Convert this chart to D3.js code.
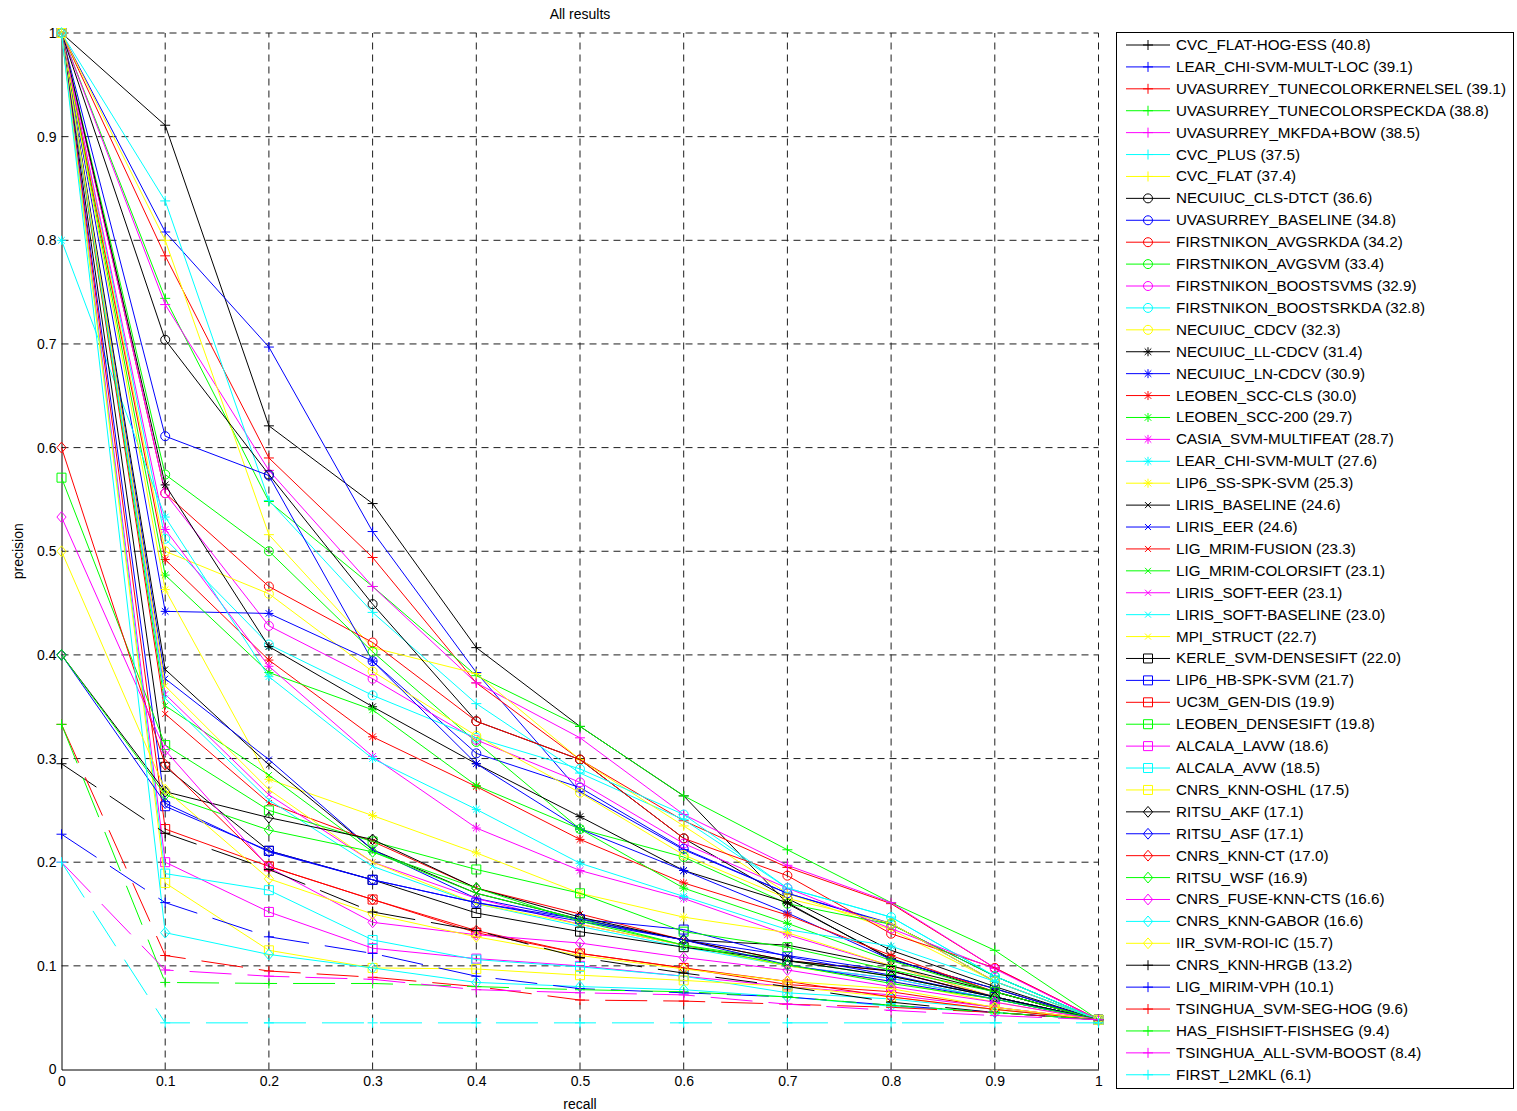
<!DOCTYPE html>
<html>
<head>
<meta charset="utf-8">
<script src="https://cdn.jsdelivr.net/npm/d3@7"></script>
<style>
  body { margin: 0; background: #fff; }
  svg { display: block; }
  text { font-family: "Liberation Sans", Arial, Helvetica, sans-serif; fill: #000; }
</style>
</head>
<body>
<svg id="chart" width="1517" height="1111"></svg>
<script>
// Recall levels at which precision is sampled
const recallLevels = [0, 0.1, 0.2, 0.3, 0.4, 0.5, 0.6, 0.7, 0.8, 0.9, 1];

// Method names with average precision, in plotting/legend order
const methods = [
  "CVC_FLAT-HOG-ESS (40.8)", "LEAR_CHI-SVM-MULT-LOC (39.1)", "UVASURREY_TUNECOLORKERNELSEL (39.1)",
  "UVASURREY_TUNECOLORSPECKDA (38.8)", "UVASURREY_MKFDA+BOW (38.5)", "CVC_PLUS (37.5)", "CVC_FLAT (37.4)",
  "NECUIUC_CLS-DTCT (36.6)", "UVASURREY_BASELINE (34.8)", "FIRSTNIKON_AVGSRKDA (34.2)",
  "FIRSTNIKON_AVGSVM (33.4)", "FIRSTNIKON_BOOSTSVMS (32.9)", "FIRSTNIKON_BOOSTSRKDA (32.8)", "NECUIUC_CDCV (32.3)",
  "NECUIUC_LL-CDCV (31.4)", "NECUIUC_LN-CDCV (30.9)", "LEOBEN_SCC-CLS (30.0)", "LEOBEN_SCC-200 (29.7)",
  "CASIA_SVM-MULTIFEAT (28.7)", "LEAR_CHI-SVM-MULT (27.6)", "LIP6_SS-SPK-SVM (25.3)",
  "LIRIS_BASELINE (24.6)", "LIRIS_EER (24.6)", "LIG_MRIM-FUSION (23.3)", "LIG_MRIM-COLORSIFT (23.1)",
  "LIRIS_SOFT-EER (23.1)", "LIRIS_SOFT-BASELINE (23.0)", "MPI_STRUCT (22.7)",
  "KERLE_SVM-DENSESIFT (22.0)", "LIP6_HB-SPK-SVM (21.7)", "UC3M_GEN-DIS (19.9)", "LEOBEN_DENSESIFT (19.8)",
  "ALCALA_LAVW (18.6)", "ALCALA_AVW (18.5)", "CNRS_KNN-OSHL (17.5)",
  "RITSU_AKF (17.1)", "RITSU_ASF (17.1)", "CNRS_KNN-CT (17.0)", "RITSU_WSF (16.9)",
  "CNRS_FUSE-KNN-CTS (16.6)", "CNRS_KNN-GABOR (16.6)", "IIR_SVM-ROI-IC (15.7)",
  "CNRS_KNN-HRGB (13.2)", "LIG_MIRIM-VPH (10.1)", "TSINGHUA_SVM-SEG-HOG (9.6)",
  "HAS_FISHSIFT-FISHSEG (9.4)", "TSINGHUA_ALL-SVM-BOOST (8.4)", "FIRST_L2MKL (6.1)"
];

// Interpolated precision at each recall level, one row per method
const precision = [
  [1, 0.911, 0.621, 0.546, 0.407, 0.331, 0.264, 0.160, 0.107, 0.075, 0.048],
  [1, 0.808, 0.697, 0.519, 0.383, 0.268, 0.212, 0.170, 0.140, 0.090, 0.048],
  [1, 0.785, 0.590, 0.494, 0.373, 0.299, 0.240, 0.195, 0.160, 0.098, 0.048],
  [1, 0.744, 0.548, 0.466, 0.380, 0.331, 0.264, 0.212, 0.161, 0.115, 0.048],
  [1, 0.738, 0.578, 0.466, 0.373, 0.320, 0.246, 0.197, 0.161, 0.098, 0.048],
  [1, 0.838, 0.549, 0.441, 0.353, 0.286, 0.241, 0.175, 0.147, 0.090, 0.048],
  [1, 0.800, 0.516, 0.407, 0.382, 0.299, 0.235, 0.170, 0.135, 0.085, 0.048],
  [1, 0.704, 0.574, 0.449, 0.336, 0.299, 0.223, 0.165, 0.115, 0.080, 0.048],
  [1, 0.611, 0.573, 0.394, 0.305, 0.272, 0.213, 0.170, 0.141, 0.085, 0.048],
  [1, 0.556, 0.466, 0.412, 0.336, 0.299, 0.223, 0.187, 0.131, 0.098, 0.048],
  [1, 0.574, 0.500, 0.403, 0.316, 0.232, 0.205, 0.160, 0.140, 0.090, 0.048],
  [1, 0.556, 0.428, 0.377, 0.318, 0.277, 0.218, 0.175, 0.136, 0.097, 0.048],
  [1, 0.512, 0.410, 0.361, 0.320, 0.290, 0.246, 0.175, 0.147, 0.090, 0.048],
  [1, 0.500, 0.459, 0.384, 0.322, 0.267, 0.207, 0.165, 0.141, 0.085, 0.048],
  [1, 0.564, 0.408, 0.350, 0.295, 0.244, 0.192, 0.161, 0.106, 0.078, 0.048],
  [1, 0.442, 0.440, 0.394, 0.295, 0.232, 0.192, 0.151, 0.106, 0.078, 0.048],
  [1, 0.492, 0.395, 0.321, 0.273, 0.222, 0.180, 0.149, 0.110, 0.075, 0.048],
  [1, 0.477, 0.383, 0.347, 0.274, 0.232, 0.175, 0.141, 0.105, 0.075, 0.048],
  [1, 0.521, 0.389, 0.302, 0.233, 0.192, 0.165, 0.130, 0.100, 0.070, 0.048],
  [0.8, 0.533, 0.379, 0.300, 0.251, 0.199, 0.167, 0.135, 0.119, 0.085, 0.048],
  [1, 0.463, 0.280, 0.245, 0.209, 0.170, 0.147, 0.132, 0.100, 0.070, 0.048],
  [1, 0.386, 0.294, 0.212, 0.170, 0.145, 0.125, 0.120, 0.100, 0.075, 0.048],
  [1, 0.377, 0.299, 0.212, 0.165, 0.145, 0.125, 0.110, 0.095, 0.070, 0.048],
  [1, 0.343, 0.257, 0.220, 0.175, 0.150, 0.125, 0.105, 0.095, 0.070, 0.048],
  [1, 0.351, 0.284, 0.210, 0.170, 0.145, 0.120, 0.105, 0.090, 0.070, 0.048],
  [1, 0.362, 0.265, 0.200, 0.165, 0.140, 0.120, 0.100, 0.088, 0.068, 0.048],
  [1, 0.358, 0.260, 0.196, 0.160, 0.138, 0.118, 0.100, 0.088, 0.068, 0.048],
  [1, 0.370, 0.270, 0.200, 0.160, 0.140, 0.120, 0.100, 0.085, 0.065, 0.048],
  [1, 0.292, 0.211, 0.183, 0.151, 0.133, 0.118, 0.105, 0.095, 0.070, 0.048],
  [1, 0.254, 0.211, 0.183, 0.161, 0.145, 0.135, 0.109, 0.091, 0.070, 0.048],
  [1, 0.232, 0.196, 0.164, 0.132, 0.112, 0.098, 0.082, 0.075, 0.060, 0.048],
  [0.571, 0.313, 0.250, 0.220, 0.193, 0.170, 0.133, 0.118, 0.096, 0.075, 0.048],
  [1, 0.200, 0.152, 0.117, 0.107, 0.100, 0.090, 0.080, 0.072, 0.060, 0.048],
  [1, 0.189, 0.173, 0.125, 0.106, 0.099, 0.090, 0.074, 0.068, 0.058, 0.048],
  [1, 0.180, 0.115, 0.098, 0.097, 0.091, 0.086, 0.080, 0.070, 0.058, 0.048],
  [0.4, 0.268, 0.243, 0.222, 0.175, 0.147, 0.125, 0.105, 0.090, 0.070, 0.048],
  [0.4, 0.257, 0.210, 0.183, 0.161, 0.143, 0.125, 0.101, 0.085, 0.068, 0.048],
  [0.6, 0.294, 0.196, 0.164, 0.134, 0.112, 0.098, 0.085, 0.070, 0.058, 0.048],
  [0.4, 0.265, 0.231, 0.210, 0.175, 0.143, 0.120, 0.101, 0.083, 0.068, 0.048],
  [0.533, 0.308, 0.195, 0.142, 0.130, 0.122, 0.108, 0.096, 0.080, 0.065, 0.048],
  [1, 0.132, 0.111, 0.098, 0.084, 0.080, 0.077, 0.070, 0.061, 0.055, 0.048],
  [0.5, 0.270, 0.184, 0.150, 0.128, 0.110, 0.097, 0.085, 0.078, 0.060, 0.048],
  [0.295, 0.228, 0.193, 0.152, 0.134, 0.108, 0.093, 0.080, 0.065, 0.055, 0.048],
  [0.227, 0.161, 0.128, 0.112, 0.090, 0.078, 0.074, 0.070, 0.062, 0.055, 0.048],
  [0.333, 0.110, 0.095, 0.089, 0.080, 0.067, 0.066, 0.063, 0.060, 0.055, 0.048],
  [0.333, 0.084, 0.083, 0.083, 0.080, 0.077, 0.075, 0.070, 0.062, 0.055, 0.048],
  [0.2, 0.096, 0.090, 0.087, 0.077, 0.074, 0.072, 0.063, 0.057, 0.052, 0.048],
  [0.2, 0.045, 0.045, 0.045, 0.045, 0.045, 0.045, 0.045, 0.045, 0.045, 0.045]
];

// Axis tick values and labels
const tickValues = [0, 0.1, 0.2, 0.3, 0.4, 0.5, 0.6, 0.7, 0.8, 0.9, 1];
const tickLabels = ["0", "0.1", "0.2", "0.3", "0.4", "0.5", "0.6", "0.7", "0.8", "0.9", "1"];

// ---- styling: colour cycles every 7 series, marker changes every 7 series ----
const palette = ["#000000", "#0000ff", "#ff0000", "#00ff00", "#ff00ff", "#00ffff", "#ffff00"];
const markerCycle = ["plus", "circle", "star", "cross", "square", "diamond", "plus"];
const colorOf = i => palette[i % 7];
const markerOf = i => markerCycle[Math.floor(i / 7)];
const dashedOf = i => Math.floor(i / 7) >= 6;

const svg = d3.select("#chart");
const plot = { left: 61.5, right: 1098.5, top: 33, bottom: 1069.5 };

const x = d3.scaleLinear().domain([0, 1]).range([plot.left, plot.right]);
const y = d3.scaleLinear().domain([0, 1]).range([plot.bottom, plot.top]);

// marker path generator (unfilled, stroked)
function markerPath(kind) {
  const p = d3.path();
  if (kind === "plus") {
    const s = 5;
    p.moveTo(-s, 0); p.lineTo(s, 0); p.moveTo(0, -s); p.lineTo(0, s);
  } else if (kind === "circle") {
    p.moveTo(4.5, 0); p.arc(0, 0, 4.5, 0, 2 * Math.PI);
  } else if (kind === "star") {
    const s = 4.5, d = 3.3;
    p.moveTo(-s, 0); p.lineTo(s, 0); p.moveTo(0, -s); p.lineTo(0, s);
    p.moveTo(-d, -d); p.lineTo(d, d); p.moveTo(-d, d); p.lineTo(d, -d);
  } else if (kind === "cross") {
    const d = 3;
    p.moveTo(-d, -d); p.lineTo(d, d); p.moveTo(-d, d); p.lineTo(d, -d);
  } else if (kind === "square") {
    const s = 4.5;
    p.rect(-s, -s, 2 * s, 2 * s);
  } else if (kind === "diamond") {
    const w = 4.6, h = 5.4;
    p.moveTo(0, -h); p.lineTo(w, 0); p.lineTo(0, h); p.lineTo(-w, 0); p.closePath();
  }
  return p.toString();
}

// ---- grid (dashed) ----
const grid = svg.append("g").attr("class", "grid")
  .attr("stroke", "#1e1e1e").attr("stroke-width", 1).attr("stroke-dasharray", "7,5").attr("fill", "none");
tickValues.filter(t => t > 0).forEach(t => {
  grid.append("line").attr("x1", x(t)).attr("x2", x(t)).attr("y1", y(0)).attr("y2", y(1));
  grid.append("line").attr("x1", x(0)).attr("x2", x(1)).attr("y1", y(t)).attr("y2", y(t));
});

// ---- axes ----
const fmt = d => tickLabels[tickValues.indexOf(d)];
const xAxis = d3.axisBottom(x).tickValues(tickValues).tickFormat(fmt).tickSize(0).tickPadding(7);
const yAxis = d3.axisLeft(y).tickValues(tickValues).tickFormat(fmt).tickSize(0).tickPadding(5);

svg.append("g").attr("transform", `translate(0,${plot.bottom})`).call(xAxis)
  .call(g => g.select(".domain").attr("stroke", "#000"))
  .call(g => g.selectAll("text").attr("font-size", 14).attr("font-family", "Liberation Sans, Arial, sans-serif"));
svg.append("g").attr("transform", `translate(${plot.left},0)`).call(yAxis)
  .call(g => g.select(".domain").attr("stroke", "#000"))
  .call(g => g.selectAll("text").attr("font-size", 14).attr("font-family", "Liberation Sans, Arial, sans-serif"));

// ---- series lines and markers ----
const line = d3.line().x((d, i) => x(recallLevels[i])).y(d => y(d));
const seriesG = svg.append("g").attr("class", "series");
precision.forEach((vals, i) => {
  const g = seriesG.append("g");
  g.append("path")
    .attr("d", line(vals))
    .attr("fill", "none")
    .attr("stroke", colorOf(i))
    .attr("stroke-width", 1)
    .attr("stroke-dasharray", dashedOf(i) ? "42,16" : null);
  g.selectAll("path.mk").data(vals).join("path")
    .attr("class", "mk")
    .attr("transform", (d, j) => `translate(${x(recallLevels[j])},${y(d)})`)
    .attr("d", markerPath(markerOf(i)))
    .attr("fill", "none")
    .attr("stroke", colorOf(i))
    .attr("stroke-width", 1);
});

// ---- titles ----
svg.append("text").attr("x", x(0.5)).attr("y", 19).attr("text-anchor", "middle")
  .attr("font-size", 14).text("All results");
svg.append("text").attr("x", x(0.5)).attr("y", 1109).attr("text-anchor", "middle")
  .attr("font-size", 14).text("recall");
svg.append("text").attr("transform", `translate(23,${y(0.5)}) rotate(-90)`).attr("text-anchor", "middle")
  .attr("font-size", 14).text("precision");

// ---- legend ----
const legend = { left: 1116, top: 32, width: 397, height: 1056, firstRow: 45, rowStep: 21.91 };
const lg = svg.append("g").attr("class", "legend");
lg.append("rect").attr("x", legend.left + 0.5).attr("y", legend.top + 0.5)
  .attr("width", legend.width).attr("height", legend.height)
  .attr("fill", "#fff").attr("stroke", "#000").attr("stroke-width", 1);
methods.forEach((name, i) => {
  const cy = legend.firstRow + i * legend.rowStep;
  const row = lg.append("g").attr("transform", `translate(0,${cy})`);
  row.append("line").attr("x1", 1126).attr("x2", 1170).attr("y1", 0).attr("y2", 0)
    .attr("stroke", colorOf(i)).attr("stroke-width", 1);
  row.append("path").attr("transform", "translate(1148,0)").attr("d", markerPath(markerOf(i)))
    .attr("fill", "none").attr("stroke", colorOf(i)).attr("stroke-width", 1);
  row.append("text").attr("x", 1176).attr("y", 5).attr("font-size", 15.2).text(name);
});
</script>
</body>
</html>
